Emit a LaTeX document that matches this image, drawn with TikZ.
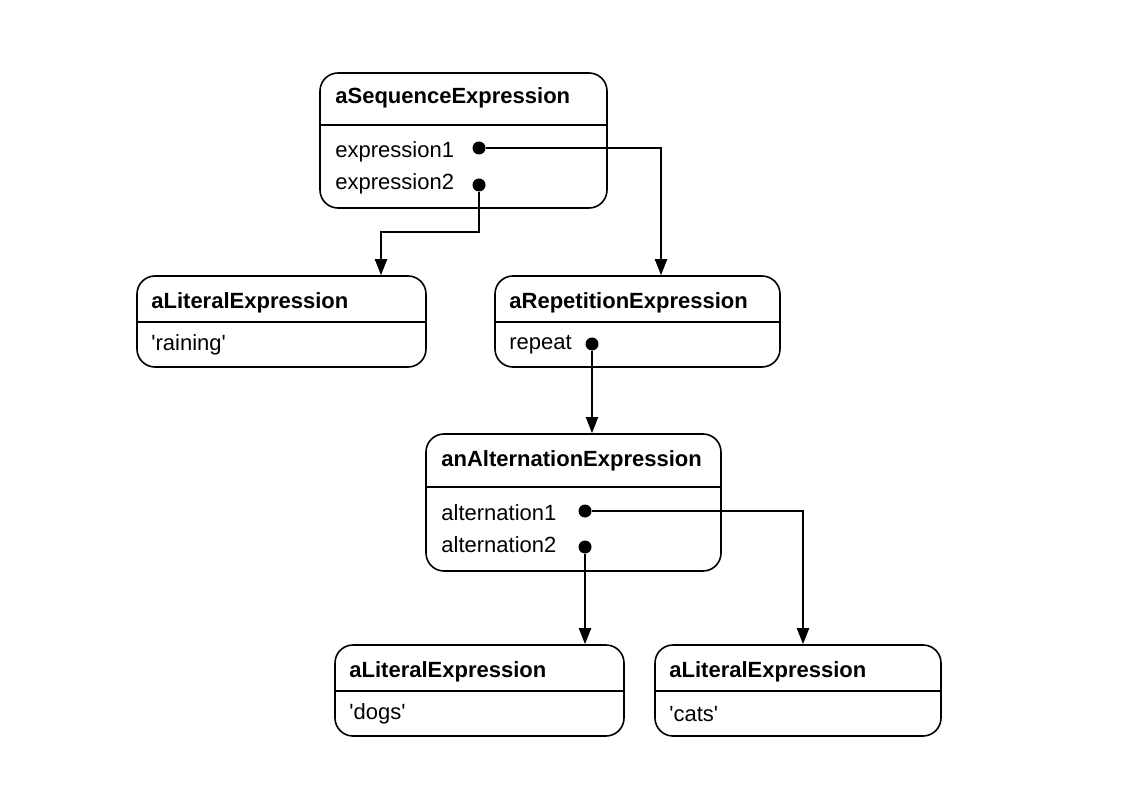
\documentclass[tikz,border=0pt]{standalone}
\usepackage{fontspec}
\setmainfont{Liberation Sans}[Ligatures=TeXOff]
\usetikzlibrary{arrows.meta}
\usetikzlibrary{positioning}

\begin{document}
\begin{tikzpicture}[x=0.5pt,y=-0.5pt,
  obj/.style={draw,line width=0.8pt,rounded corners=9pt,inner sep=0pt},
  sep/.style={line width=0.8pt},
  title/.style={anchor=west,inner sep=0pt,font=\fontsize{11}{13}\selectfont\bfseries},
  field/.style={anchor=west,inner sep=0pt,font=\fontsize{11}{13}\selectfont},
  dot/.style={circle,fill,inner sep=0pt,minimum size=6.5pt},
  link/.style={-{Triangle[length=8pt,width=6pt]},line width=1pt}]
\useasboundingbox (0,0) rectangle (1146,802);
%Objects

    \node[obj,minimum width=143.5pt,minimum height=67.5pt] (seq) at (463.5,140.5) {};
    \draw[sep] (seq.west |- 0,125) -- (seq.east |- 0,125);
    \node[title] (seqname) at (335,98) {aSequenceExpression};
    \node[field] (expr1) at (335,152) {expression1};
    \node[field] (expr2) at (335,184) {expression2};
    \node[dot] (e1) at (479,148) {};
    \node[dot] (e2) at (479,185) {};

    \node[obj,minimum width=144.5pt,minimum height=45.5pt] (lit1) at (281.5,321.5) {};
    \draw[sep] (lit1.west |- 0,322) -- (lit1.east |- 0,322);
    \node[title] (lit1name) at (151,303) {aLiteralExpression};
    \node[field] (raining) at (151,345) {'raining'};

    \node[obj,minimum width=142.5pt,minimum height=45.5pt] (rep) at (637.5,321.5) {};
    \draw[sep] (rep.west |- 0,322) -- (rep.east |- 0,322);
    \node[title] (repname) at (509,303) {aRepetitionExpression};
    \node[field] (repeat) at (509,345) {repeat};
    \node[dot] (r1) at (592,344) {};

    \node[obj,minimum width=147.5pt,minimum height=68.5pt] (alt) at (573.5,502.5) {};
    \draw[sep] (alt.west |- 0,487) -- (alt.east |- 0,487);
    \node[title] (altname) at (441,461) {anAlternationExpression};
    \node[field] (alt1) at (441,513) {alternation1};
    \node[field] (alt2) at (441,545) {alternation2};
    \node[dot] (a1) at (585,511) {};
    \node[dot] (a2) at (585,547) {};

    \node[obj,minimum width=144.5pt,minimum height=45.5pt] (lit2) at (479.5,690.5) {};
    \draw[sep] (lit2.west |- 0,691) -- (lit2.east |- 0,691);
    \node[title] (lit2name) at (349,672) {aLiteralExpression};
    \node[field] (dogs) at (349,714) {'dogs'};

    \node[obj,minimum width=143pt,minimum height=45.5pt] (lit3) at (798,690.5) {};
    \draw[sep] (lit3.west |- 0,691) -- (lit3.east |- 0,691);
    \node[title] (lit3name) at (669,672) {aLiteralExpression};
    \node[field] (cats) at (669,714) {'cats'};

%References
    \draw[link] (e1) -| (661,0 |- rep.north);
    \draw[link] (e2) -- (e2 |- 0,232) -| (381,0 |- lit1.north);
    \draw[link] (r1) -- (r1 |- alt.north);
    \draw[link] (a1) -| (803,0 |- lit3.north);
    \draw[link] (a2) -- (a2 |- lit2.north);
\end{tikzpicture}
\end{document}
